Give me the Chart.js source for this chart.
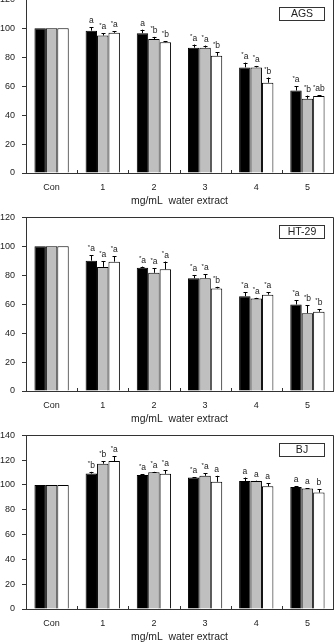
<!DOCTYPE html>
<html>
<head>
<meta charset="utf-8">
<script src="https://cdn.jsdelivr.net/npm/chart.js@4/dist/chart.umd.min.js"></script>
<style>
  html, body { margin: 0; padding: 0; background: #fff; overflow: hidden; }
  body { width: 335px; height: 643px; position: relative; }
  .panel { position: absolute; left: 0; width: 335px; height: 219px; }
</style>
</head>
<body>
<div class="panel" style="top:-13px"><canvas id="chartAGS"></canvas></div>
<div class="panel" style="top:205px"><canvas id="chartHT29"></canvas></div>
<div class="panel" style="top:423px"><canvas id="chartBJ"></canvas></div>
<script>
// categories (mg/mL of water extract)
const categories = ['Con', '1', '2', '3', '4', '5'];
const axisTitle = 'mg/mL  water extract';

// AGS
const agsBlack = [100, 98.4, 96.6, 86.6, 73.0, 57.0];
const agsGray = [100, 95.0, 92.6, 86.6, 73.0, 51.3];
const agsWhite = [100, 96.9, 90.4, 81.0, 62.4, 53.2];
const agsBlackErr = [0, 2.3, 2.5, 2.2, 3.3, 2.9];
const agsGrayErr = [0, 1.5, 1.5, 1.5, 1.0, 2.2];
const agsWhiteErr = [0, 1.0, 0.7, 2.3, 3.6, 0.7];
const agsBlackSig = ['', 'a', 'a', '*a', '*a', '*a'];
const agsGraySig = ['', '*a', '*b', '*a', '*a', '*b'];
const agsWhiteSig = ['', '*a', '*b', '*b', '*b', '*ab'];

// HT-29
const htBlack = [100, 90.1, 85.2, 77.9, 65.5, 59.8];
const htGray = [100, 85.8, 81.7, 77.9, 63.9, 53.8];
const htWhite = [100, 89.4, 84.1, 70.9, 66.6, 54.8];
const htBlackErr = [0, 3.6, 0.8, 2.3, 2.7, 3.0];
const htGrayErr = [0, 3.9, 3.3, 2.8, 0.5, 5.4];
const htWhiteErr = [0, 3.6, 5.4, 1.1, 1.8, 1.9];
const htBlackSig = ['', '*a', '*a', '*a', '*a', '*a'];
const htGraySig = ['', '*a', '*a', '*a', '*a', '*b'];
const htWhiteSig = ['', '*a', '*a', '*b', '*a', '*b'];

// BJ
const bjBlack = [100, 109.2, 108.0, 106.0, 103.2, 98.4];
const bjGray = [100, 117.2, 110.3, 107.4, 103.2, 97.1];
const bjWhite = [100, 119.3, 109.0, 102.6, 98.9, 93.9];
const bjBlackErr = [0, 1.4, 0.6, 0.4, 2.8, 0.8];
const bjGrayErr = [0, 1.9, 0.3, 2.1, 0.3, 0.3];
const bjWhiteErr = [0, 4.0, 2.9, 4.8, 2.7, 2.6];
const bjBlackSig = ['', '*b', '*a', '*a', 'a', 'a'];
const bjGraySig = ['', '*b', '*a', '*a', 'a', 'a'];
const bjWhiteSig = ['', '*a', '*a', 'a', 'a', 'b'];

const fontFamily = "'Liberation Sans', Arial, sans-serif";
const lineColor = '#333';
const textColor = '#222';
const barFills = ['#000000', '#bfbfbf', '#ffffff'];

Chart.defaults.font.family = fontFamily;

// draws "*a" with a small raised asterisk
function drawSig(ctx, text, x, y) {
    const star = text.startsWith('*');
    const letters = star ? text.slice(1) : text;
    ctx.font = '8.5px ' + fontFamily;
    const lw = ctx.measureText(letters).width;
    ctx.font = '6px ' + fontFamily;
    const sw = star ? ctx.measureText('*').width : 0;
    const left = x - (sw + lw) / 2;
    if (star) {
        ctx.fillText('*', left, y - 2.5);
    }
    ctx.font = '8.5px ' + fontFamily;
    ctx.fillText(letters, left + sw, y);
}

const extrasPlugin = {
    id: 'extras',
    afterDatasetsDraw(chart) {
        const ctx = chart.ctx;
        const yScale = chart.scales.y;
        const errs = chart.options.plugins.extras.errors;
        const sigs = chart.options.plugins.extras.sigs;
        ctx.save();
        ctx.strokeStyle = '#000';
        ctx.fillStyle = textColor;
        ctx.lineWidth = 1;
        ctx.textAlign = 'left';
        ctx.textBaseline = 'alphabetic';
        chart.data.datasets.forEach((ds, di) => {
            const meta = chart.getDatasetMeta(di);
            meta.data.forEach((bar, i) => {
                const err = errs[di][i];
                const x = Math.round(bar.x) + 0.5;
                const topY = yScale.getPixelForValue(ds.data[i] + err);
                if (err > 0) {
                    ctx.beginPath();
                    ctx.moveTo(x, bar.y);
                    ctx.lineTo(x, topY);
                    ctx.moveTo(x - 2, Math.round(topY) + 0.5);
                    ctx.lineTo(x + 2, Math.round(topY) + 0.5);
                    ctx.stroke();
                }
                if (sigs[di][i]) {
                    drawSig(ctx, sigs[di][i], bar.x, topY - 4);
                }
            });
        });
        ctx.restore();
    },
    afterDraw(chart) {
        const ctx = chart.ctx;
        const area = chart.chartArea;
        const xScale = chart.scales.x;
        const name = chart.options.plugins.extras.name;
        ctx.save();
        ctx.strokeStyle = lineColor;
        ctx.lineWidth = 1;
        // frame top and right
        ctx.beginPath();
        ctx.moveTo(area.left, Math.round(area.top) + 0.5);
        ctx.lineTo(Math.round(area.right) + 0.5, Math.round(area.top) + 0.5);
        ctx.lineTo(Math.round(area.right) + 0.5, area.bottom);
        ctx.stroke();
        // inward tick marks between categories
        const step = (xScale.getPixelForTick(1) - xScale.getPixelForTick(0));
        ctx.beginPath();
        for (let i = 1; i < categories.length; i++) {
            const tx = Math.round(xScale.getPixelForTick(i) - step / 2) + 0.5;
            ctx.moveTo(tx, area.bottom);
            ctx.lineTo(tx, area.bottom - 3);
        }
        ctx.stroke();
        // cell line box
        const bx = Math.round(area.right) - 54 + 0.5;
        const by = Math.round(area.top) + 8 + 0.5;
        ctx.fillStyle = '#fff';
        ctx.fillRect(bx, by, 45, 13);
        ctx.strokeRect(bx, by, 45, 13);
        ctx.fillStyle = textColor;
        ctx.font = '10.5px ' + fontFamily;
        ctx.textAlign = 'center';
        ctx.textBaseline = 'middle';
        ctx.fillText(name, bx + 22.5, by + 7);
        ctx.restore();
    }
};

function makeChart(canvasId, name, yMax, series, errors, sigs) {
    return new Chart(document.getElementById(canvasId), {
        type: 'bar',
        data: {
            labels: categories,
            datasets: series.map((values, i) => ({
                label: 'Series ' + (i + 1),
                data: values,
                backgroundColor: barFills[i],
                borderColor: '#000',
                borderWidth: 1,
                categoryPercentage: 0.67,
                barPercentage: 1.0
            }))
        },
        options: {
            responsive: true,
            maintainAspectRatio: false,
            animation: false,
            devicePixelRatio: 1,
            layout: {
                padding: { top: 10, right: 2, bottom: 0, left: 0 }
            },
            scales: {
                x: {
                    afterFit: (scale) => { scale.height = 33; },
                    grid: { display: false, drawTicks: false },
                    border: { display: true, color: lineColor, width: 1 },
                    ticks: { color: textColor, font: { size: 9 }, padding: 9 },
                    title: {
                        display: true,
                        text: axisTitle,
                        color: textColor,
                        font: { size: 10.4 },
                        padding: { top: 2, bottom: -1 }
                    }
                },
                y: {
                    min: 0,
                    max: yMax,
                    afterFit: (scale) => { scale.width = 26; },
                    grid: { display: true, drawOnChartArea: false, drawTicks: true, tickLength: 4, color: lineColor },
                    border: { display: true, color: lineColor, width: 1 },
                    ticks: { stepSize: 20, color: textColor, font: { size: 9 }, padding: 7 }
                }
            },
            plugins: {
                legend: { display: false },
                tooltip: { enabled: false },
                extras: { name: name, errors: errors, sigs: sigs }
            }
        },
        plugins: [extrasPlugin]
    });
}

makeChart('chartAGS', 'AGS', 120,
    [agsBlack, agsGray, agsWhite],
    [agsBlackErr, agsGrayErr, agsWhiteErr],
    [agsBlackSig, agsGraySig, agsWhiteSig]);

makeChart('chartHT29', 'HT-29', 120,
    [htBlack, htGray, htWhite],
    [htBlackErr, htGrayErr, htWhiteErr],
    [htBlackSig, htGraySig, htWhiteSig]);

makeChart('chartBJ', 'BJ', 140,
    [bjBlack, bjGray, bjWhite],
    [bjBlackErr, bjGrayErr, bjWhiteErr],
    [bjBlackSig, bjGraySig, bjWhiteSig]);
</script>
</body>
</html>
